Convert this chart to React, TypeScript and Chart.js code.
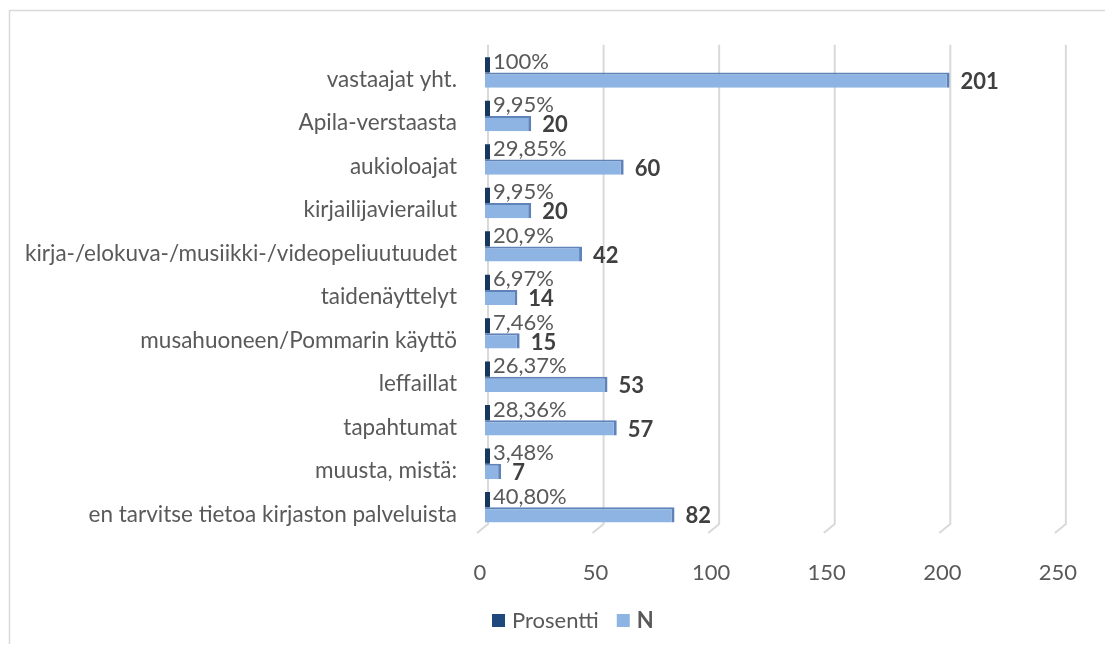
import React, { useEffect, useRef } from "react";
import { Chart, registerables } from "chart.js";

Chart.register(...registerables);

const categories = [
  "vastaajat yht.",
  "Apila-verstaasta",
  "aukioloajat",
  "kirjailijavierailut",
  "kirja-/elokuva-/musiikki-/videopeliuutuudet",
  "taidenäyttelyt",
  "musahuoneen/Pommarin käyttö",
  "leffaillat",
  "tapahtumat",
  "muusta, mistä:",
  "en tarvitse tietoa kirjaston palveluista",
];
const nValues = [201, 20, 60, 20, 42, 14, 15, 53, 57, 7, 82];
const percentValues = [1, 0.0995, 0.2985, 0.0995, 0.209, 0.0697, 0.0746, 0.2637, 0.2836, 0.0348, 0.408];
const percentLabels = ["100%", "9,95%", "29,85%", "9,95%", "20,9%", "6,97%", "7,46%", "26,37%", "28,36%", "3,48%", "40,80%"];
const xMin = 0;
const xMax = 250;
const xStep = 50;

const FONT = "Lato";
const TEXT = "#595959";
const TEXT_DARK = "#404040";
const GRID = "#d9d9d9";

const framePlugin = {
  id: "frame",
  beforeDraw(chart: any) {
    const ctx = chart.ctx;
    ctx.save();
    ctx.strokeStyle = GRID;
    ctx.lineWidth = 1.5;
    ctx.beginPath();
    ctx.moveTo(1.5, chart.height);
    ctx.lineTo(1.5, 2.5);
    ctx.lineTo(chart.width, 2.5);
    ctx.stroke();
    ctx.restore();
  },
};

const gridPlugin = {
  id: "grid3d",
  beforeDatasetsDraw(chart: any) {
    const ctx = chart.ctx;
    const xs = chart.scales.x;
    const { top, bottom } = chart.chartArea;
    ctx.save();
    ctx.strokeStyle = GRID;
    ctx.lineWidth = 2;
    xs.ticks.forEach((t: any) => {
      const px = xs.getPixelForValue(t.value) + 3;
      ctx.beginPath();
      ctx.moveTo(px, top - 6);
      ctx.lineTo(px, bottom - 5);
      ctx.lineTo(px - 11, bottom + 4);
      ctx.stroke();
    });
    ctx.restore();
  },
};

const labelsPlugin = {
  id: "barLabels",
  afterDatasetsDraw(chart: any) {
    const ctx = chart.ctx;
    const x0 = chart.scales.x.getPixelForValue(0);
    const m0 = chart.getDatasetMeta(0);
    const m1 = chart.getDatasetMeta(1);
    ctx.save();
    ctx.textAlign = "left";
    ctx.textBaseline = "middle";
    ctx.fillStyle = TEXT;
    ctx.font = `22px ${FONT}`;
    m0.data.forEach((bar: any, i: number) => {
      ctx.fillText(percentLabels[i], x0 + 8, bar.y - 3);
    });
    ctx.fillStyle = TEXT_DARK;
    ctx.font = `bold 22px ${FONT}`;
    m1.data.forEach((bar: any, i: number) => {
      ctx.fillText(String(nValues[i]), bar.x + 11, bar.y + 1.5);
    });
    ctx.restore();
  },
};

const legendPlugin = {
  id: "customLegend",
  afterDraw(chart: any) {
    const ctx = chart.ctx;
    const ds = chart.data.datasets;
    let x = 484;
    const y = 613;
    ctx.save();
    ctx.textBaseline = "middle";
    ctx.textAlign = "left";
    ds.forEach((d: any, i: number) => {
      ctx.fillStyle = d.legendColor;
      ctx.fillRect(x, y - 7, 13, 13);
      x += 20;
      ctx.font = i === 1 ? `bold 22px ${FONT}` : `22px ${FONT}`;
      ctx.fillStyle = TEXT;
      ctx.fillText(d.label, x, y);
      x += ctx.measureText(d.label).width + 18;
    });
    ctx.restore();
  },
};

export default function App() {
  const ref = useRef<HTMLCanvasElement | null>(null);
  useEffect(() => {
    if (!ref.current) return;
    const chart = new Chart(ref.current, {
      type: "bar",
      data: {
        labels: categories,
        datasets: [
          {
            label: "Prosentti",
            data: percentValues,
            backgroundColor: "#17375e",
            legendColor: "#1f497d",
            minBarLength: 5,
            categoryPercentage: 0.7,
            barPercentage: 1,
          } as any,
          {
            label: "N",
            data: nValues,
            backgroundColor: "#8db4e2",
            borderColor: "#5f83b9",
            borderWidth: { top: 2, right: 3, bottom: 0, left: 0 },
            borderSkipped: false,
            legendColor: "#8db4e2",
            categoryPercentage: 0.7,
            barPercentage: 1,
          } as any,
        ],
      },
      options: {
        indexAxis: "y",
        responsive: false,
        animation: false,
        layout: { padding: { top: 42.75, right: 40, left: 0, bottom: 0 } },
        plugins: {
          legend: { display: false },
          tooltip: { enabled: false },
        },
        scales: {
          x: {
            min: xMin,
            max: xMax,
            grid: { display: false },
            border: { display: false },
            ticks: {
              stepSize: xStep,
              padding: 23,
              labelOffset: -5,
              color: TEXT,
              font: { family: FONT, size: 22 },
            },
            afterFit(scale: any) {
              scale.height = 115;
            },
          },
          y: {
            grid: { display: false },
            border: { display: false },
            ticks: {
              padding: 20,
              labelOffset: 7,
              color: TEXT,
              font: { family: FONT, size: 22.5 },
              autoSkip: false,
            },
            afterFit(scale: any) {
              scale.width = 477;
            },
          },
        },
      } as any,
      plugins: [framePlugin, gridPlugin, labelsPlugin, legendPlugin],
    });
    return () => chart.destroy();
  }, []);
  return <canvas ref={ref} width={1097} height={636} style={{ display: "block" }} />;
}
